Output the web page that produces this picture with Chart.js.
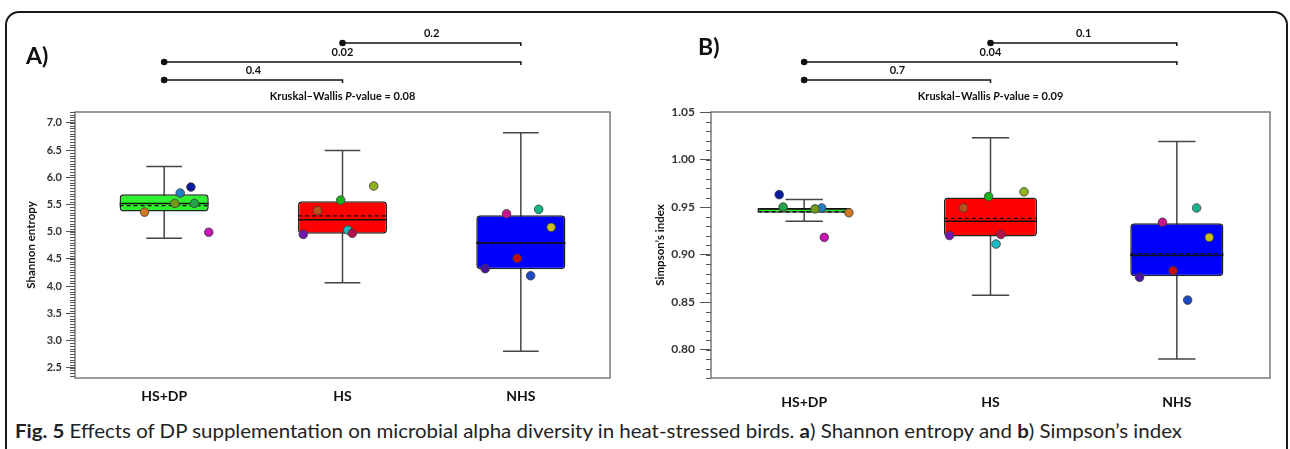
<!DOCTYPE html>
<html>
<head>
<meta charset="utf-8">
<script src="https://cdn.jsdelivr.net/npm/chart.js@4.4.1/dist/chart.umd.min.js"></script>
<style>
  html, body { margin: 0; padding: 0; background: #fff; }
  body { width: 1290px; height: 449px; position: relative; overflow: hidden; font-family: Lato, "Open Sans", sans-serif; }
  #frame { position: absolute; left: 5px; top: 11px; width: 1283px; height: 470px; border: 2px solid #1a1a1a; border-radius: 14px; box-sizing: border-box; }
  canvas { position: absolute; top: 0; }
  #chartA { left: 0; }
  #chartB { left: 645px; }
  .tag { position: absolute; font-weight: bold; font-size: 23px; color: #111; line-height: 1; }
  #caption { position: absolute; left: 15px; top: 420px; font-size: 19px; color: #222; white-space: nowrap; transform-origin: 0 0; line-height: 1.2; }
</style>
</head>
<body>
<div id="frame"></div>
<canvas id="chartA" width="645" height="415"></canvas>
<canvas id="chartB" width="645" height="415"></canvas>
<div class="tag" style="left:26px; top:44px;">A)</div>
<div class="tag" style="left:698px; top:35px;">B)</div>
<div id="caption"><b>Fig. 5</b> Effects of DP supplementation on microbial alpha diversity in heat-stressed birds. <b>a</b>) Shannon entropy and <b>b</b>) Simpson’s index</div>
<script>
const categories = ['HS+DP', 'HS', 'NHS'];

// panel A - Shannon entropy
const shannonMin    = [4.88, 4.06, 2.80];
const shannonQ1     = [5.37, 4.96, 4.31];
const shannonMedian = [5.52, 5.22, 4.79];
const shannonMean   = [5.48, 5.29, 4.80];
const shannonQ3     = [5.69, 5.56, 5.30];
const shannonMax    = [6.20, 6.49, 6.82];
const shannonPoints = [
  [5.36, 5.71, 5.82, 5.52, 5.52, 4.99],
  [5.39, 4.95, 5.58, 5.84, 5.03, 4.97],
  [5.33, 5.41, 5.08, 4.51, 4.32, 4.19]
];
const shannonJitter = [
  [-0.11, 0.09, 0.15, 0.06, 0.17, 0.25],
  [-0.14, -0.22, -0.01, 0.175, 0.03, 0.055],
  [-0.08, 0.10, 0.17, -0.02, -0.20, 0.055]
];
const shannonTicks = [2.5, 3.0, 3.5, 4.0, 4.5, 5.0, 5.5, 6.0, 6.5, 7.0];
const shannonPairs = [[1, 2], [0, 2], [0, 1]];
const shannonP = ['0.2', '0.02', '0.4'];
const shannonKW = '0.08';

// panel B - Simpson's index
const simpsonMin    = [0.935, 0.857, 0.790];
const simpsonQ1     = [0.944, 0.919, 0.877];
const simpsonMedian = [0.948, 0.935, 0.899];
const simpsonMean   = [0.945, 0.938, 0.901];
const simpsonQ3     = [0.949, 0.960, 0.933];
const simpsonMax    = [0.958, 1.023, 1.019];
const simpsonPoints = [
  [0.944, 0.949, 0.963, 0.948, 0.950, 0.918],
  [0.949, 0.920, 0.961, 0.966, 0.911, 0.921],
  [0.934, 0.949, 0.918, 0.883, 0.876, 0.852]
];
const simpsonJitter = [
  [0.24, 0.094, -0.134, 0.058, -0.113, 0.108],
  [-0.145, -0.22, -0.01, 0.18, 0.03, 0.056],
  [-0.077, 0.106, 0.174, -0.02, -0.20, 0.058]
];
const simpsonTicks = [0.80, 0.85, 0.90, 0.95, 1.00, 1.05];
const simpsonPairs = [[1, 2], [0, 2], [0, 1]];
const simpsonP = ['0.1', '0.04', '0.7'];
const simpsonKW = '0.09';

const boxColors = ['#2df22d', '#ff0000', '#0000ff'];
const birdColors = [
  ['#d0781e', '#1f7fc4', '#0a1a9c', '#6f9a1c', '#22a24a', '#c814b4'],
  ['#b8521c', '#7418b0', '#18b41c', '#8cb41a', '#18bcc4', '#b4124e'],
  ['#c4168a', '#18b488', '#c8c018', '#c80a0a', '#4a14a0', '#1a48c0']
];

const FONT = 'Lato, "Open Sans", sans-serif';

// turn [x1,y1,x2,y2] pieces into one line dataset with gaps
function segments(list) {
  const out = [];
  list.forEach(s => {
    out.push({ x: s[0], y: s[1] }, { x: s[2], y: s[3] }, { x: s[0], y: null });
  });
  return out;
}

const frameBox = {
  id: 'frameBox',
  afterDraw(chart) {
    const a = chart.chartArea, ctx = chart.ctx;
    ctx.save();
    ctx.strokeStyle = '#7a7a7a';
    ctx.lineWidth = 1.5;
    ctx.strokeRect(a.left, a.top, a.right - a.left, a.bottom - a.top);
    ctx.restore();
  }
};

const minorTicks = {
  id: 'minorTicks',
  afterDraw(chart, args, opts) {
    const y = chart.scales.y, ctx = chart.ctx, left = chart.chartArea.left;
    ctx.save();
    ctx.strokeStyle = '#555';
    ctx.lineWidth = 1;
    const n0 = Math.ceil(y.min / opts.step - 1e-6), n1 = Math.floor(y.max / opts.step + 1e-6);
    for (let n = n0; n <= n1; n++) {
      const p = Math.round(y.getPixelForValue(n * opts.step)) + 0.5;
      ctx.beginPath();
      ctx.moveTo(left - opts.len, p);
      ctx.lineTo(left, p);
      ctx.stroke();
    }
    ctx.restore();
  }
};

const brackets = {
  id: 'brackets',
  afterDraw(chart, args, opts) {
    const ctx = chart.ctx, x = chart.scales.x;
    ctx.save();
    ctx.strokeStyle = '#111';
    ctx.fillStyle = '#111';
    ctx.lineWidth = 1.5;
    ctx.font = 'bold 11px ' + FONT;
    ctx.textAlign = 'center';
    ctx.textBaseline = 'middle';
    opts.pairs.forEach((pr, k) => {
      const y = opts.rows[k];
      const x1 = x.getPixelForValue(pr[0]), x2 = x.getPixelForValue(pr[1]);
      ctx.beginPath();
      ctx.moveTo(x1, y);
      ctx.lineTo(x2, y);
      ctx.lineTo(x2, y + 3);
      ctx.stroke();
      ctx.beginPath();
      ctx.arc(x1, y, 3.3, 0, Math.PI * 2);
      ctx.fill();
      ctx.fillText(opts.labels[k], (x1 + x2) / 2, y - 10);
    });
    // Kruskal-Wallis line, P in italic
    const parts = [['Kruskal–Wallis ', 'bold'], ['P', 'italic bold'], ['-value = ' + opts.kw, 'bold']];
    ctx.textAlign = 'left';
    let w = 0;
    parts.forEach(p => { ctx.font = p[1] + ' 11px ' + FONT; w += ctx.measureText(p[0]).width; });
    let cx = x.getPixelForValue(1) - w / 2;
    parts.forEach(p => {
      ctx.font = p[1] + ' 11px ' + FONT;
      ctx.fillText(p[0], cx, opts.kwY);
      cx += ctx.measureText(p[0]).width;
    });
    ctx.restore();
  }
};

function makeChart(id, st, ax) {
  const idx = categories.map((c, i) => i);
  const pts = [], cols = [];
  st.points.forEach((row, i) => row.forEach((v, j) => {
    pts.push({ x: i + st.jitter[i][j], y: v });
    cols.push(birdColors[i][j]);
  }));
  const whisk = [];
  idx.forEach(i => {
    whisk.push([i, st.min[i], i, st.max[i]]);
    whisk.push([i - 0.1, st.max[i], i + 0.1, st.max[i]]);
    whisk.push([i - 0.1, st.min[i], i + 0.1, st.min[i]]);
  });
  return new Chart(document.getElementById(id), {
    type: 'bar',
    data: {
      labels: categories,
      datasets: [
        { type: 'scatter', xAxisID: 'x2', order: 0, data: pts,
          pointRadius: 4.3, pointBackgroundColor: cols, pointBorderColor: '#3a3a3a', pointBorderWidth: 0.8 },
        { type: 'line', xAxisID: 'x2', order: 1,
          data: segments(idx.map(i => [i - 0.25, st.median[i], i + 0.25, st.median[i]])),
          borderColor: '#111', borderWidth: 1.5, pointRadius: 0, spanGaps: false },
        { type: 'line', xAxisID: 'x2', order: 1,
          data: segments(idx.map(i => [i - 0.25, st.mean[i], i + 0.25, st.mean[i]])),
          borderColor: '#111', borderWidth: 1.3, borderDash: [4, 3], pointRadius: 0, spanGaps: false },
        { type: 'bar', xAxisID: 'x', order: 2, grouped: false,
          data: idx.map(i => [st.q1[i], st.q3[i]]),
          backgroundColor: boxColors, borderColor: '#222', borderWidth: 1.5,
          borderRadius: 4, borderSkipped: false, barPercentage: 0.5, categoryPercentage: 1 },
        { type: 'line', xAxisID: 'x2', order: 3, data: segments(whisk),
          borderColor: '#444', borderWidth: 1.5, pointRadius: 0, spanGaps: false }
      ]
    },
    options: {
      responsive: false,
      animation: false,
      devicePixelRatio: 1,
      layout: { padding: { top: 112, right: ax.right, left: 0, bottom: 0 } },
      plugins: {
        legend: { display: false },
        tooltip: { enabled: false },
        minorTicks: { step: ax.minor, len: 5 },
        brackets: { pairs: st.pairs, labels: st.p, kw: st.kw, rows: [43, 62, 80], kwY: 96 }
      },
      scales: {
        x: {
          type: 'category',
          offset: true,
          grid: { display: false },
          border: { display: false },
          ticks: { color: '#111', font: { family: FONT, weight: 'bold', size: 14 }, padding: ax.xPad },
          afterFit(s) { s.height = 37; }
        },
        x2: { type: 'linear', min: -0.5, max: 2.5, offset: false, display: false },
        y: {
          min: ax.min,
          max: ax.max,
          afterBuildTicks(s) { s.ticks = ax.ticks.map(v => ({ value: v })); },
          ticks: {
            color: '#333',
            font: { family: FONT, weight: 'bold', size: ax.tickSize },
            padding: ax.tickPad,
            callback: v => v.toFixed(ax.digits)
          },
          grid: { drawOnChartArea: false, tickLength: ax.tickLen, tickColor: '#555', tickWidth: 1 },
          border: { display: false },
          title: {
            display: true, text: ax.title, color: '#111',
            font: { family: FONT, weight: 'bold', size: 11.5 },
            padding: { top: ax.titlePad, bottom: 0 }
          },
          afterFit(s) { s.width = ax.width; }
        }
      }
    },
    plugins: [frameBox, minorTicks, brackets]
  });
}

makeChart('chartA', {
  min: shannonMin, q1: shannonQ1, median: shannonMedian, mean: shannonMean, q3: shannonQ3, max: shannonMax,
  points: shannonPoints, jitter: shannonJitter, pairs: shannonPairs, p: shannonP, kw: shannonKW
}, {
  min: 2.31, max: 7.2, ticks: shannonTicks, minor: 0.05, digits: 1, title: 'Shannon entropy',
  width: 75, right: 35, tickLen: 9, tickPad: 4, tickSize: 11, titlePad: 24, xPad: 2
});

makeChart('chartB', {
  min: simpsonMin, q1: simpsonQ1, median: simpsonMedian, mean: simpsonMean, q3: simpsonQ3, max: simpsonMax,
  points: simpsonPoints, jitter: simpsonJitter, pairs: simpsonPairs, p: simpsonP, kw: simpsonKW
}, {
  min: 0.77, max: 1.05, ticks: simpsonTicks, minor: 0.01, digits: 2, title: 'Simpson’s index',
  width: 66, right: 20, tickLen: 11, tickPad: 5, tickSize: 12, titlePad: 8, xPad: 8
});

// fit the caption to the width it has in the figure
const cap = document.getElementById('caption');
cap.style.transform = 'scaleX(' + (1167 / cap.getBoundingClientRect().width) + ')';
</script>
</body>
</html>
